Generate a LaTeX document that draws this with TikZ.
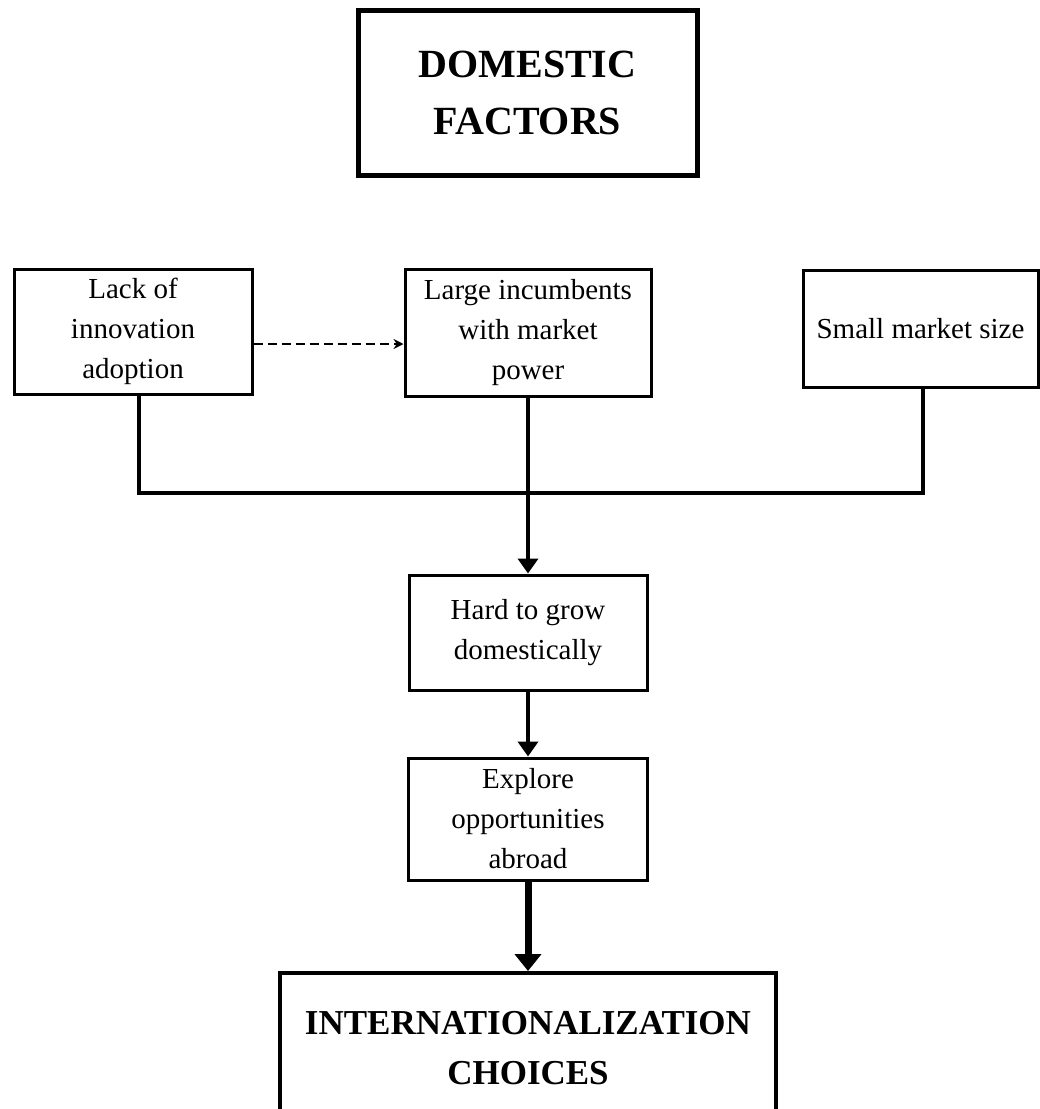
\documentclass[tikz,border=0pt]{standalone}
\usepackage{fontspec}
\setmainfont{Liberation Serif}
\usetikzlibrary{arrows.meta}
\begin{document}
\begin{tikzpicture}[x=1pt,y=-1pt,
  smallbox/.style={draw,line width=3pt,align=center,inner sep=0pt,font=\fontsize{29}{40}\selectfont},
  conn/.style={line width=4pt},
  arr/.style={line width=4pt,-{Triangle[width=20pt,length=15pt]}},
  bigarr/.style={line width=7pt,-{Triangle[width=26pt,length=17pt]}},
  dasharr/.style={line width=2.2pt,dash pattern=on 9pt off 5pt,-{Stealth[length=10pt,width=10pt]}}]
\clip (0,0) rectangle (1040,1109);
\fill[white] (0,0) rectangle (1040,1109);
% title
\node[draw,line width=5pt,minimum width=339pt,minimum height=165pt,align=center,inner sep=0pt,
  font=\fontsize{40}{57}\selectfont\bfseries] (dom) at (527.5,92.5) {DOMESTIC\\FACTORS};
% row of factors
\node[smallbox,minimum width=238pt,minimum height=125pt] (lack) at (133,331.5) {Lack of\\innovation\\adoption};
\node[smallbox,minimum width=246pt,minimum height=127pt] (large) at (528,332.5) {Large incumbents\\with market\\power};
\node[smallbox,minimum width=235pt,minimum height=117pt] (small) at (920.5,328.5) {Small market size};
% chain
\node[smallbox,minimum width=238pt,minimum height=115pt] (hard) at (528,632.5) {Hard to grow\\domestically};
\node[smallbox,minimum width=239pt,minimum height=122pt] (explore) at (528,819) {Explore\\opportunities\\abroad};
\node[draw,line width=4pt,minimum width=496pt,minimum height=150pt,align=center,inner sep=0pt,
  font=\fontsize{35}{50}\selectfont\bfseries] (intl) at (528,1048) {INTERNATIONALIZATION\\CHOICES};
% connectors
\coordinate (dashy) at (0,344);
\draw[dasharr] (lack.east |- dashy) -- (large.west |- dashy);
\coordinate (barL) at (139,493);
\coordinate (barR) at (923,493);
\draw[conn] (lack.south -| barL) -- (barL) -- (barR) -- (small.south -| barR);
\draw[arr] (large.south) -- (hard.north);
\draw[arr] (hard.south) -- (explore.north);
\draw[bigarr] (explore.south) -- (intl.north);
\end{tikzpicture}
\end{document}
